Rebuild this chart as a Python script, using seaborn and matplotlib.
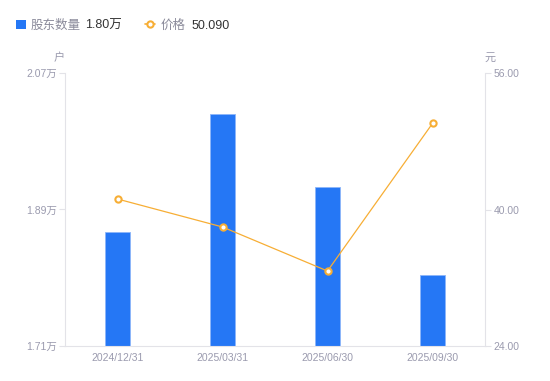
import numpy as np
import pandas as pd
import matplotlib
matplotlib.use('Agg')
import matplotlib.pyplot as plt
import seaborn as sns
from matplotlib.lines import Line2D
from matplotlib.patches import Rectangle

# Data
dates = ['2024/12/31', '2025/03/31', '2025/06/30', '2025/09/30']
holders = [1.860, 2.016, 1.920, 1.804]   # 万户
prices = [41.23, 37.95, 32.79, 50.09]    # 元
left_ticks = [1.71, 1.89, 2.07]
right_ticks = [24.0, 40.0, 56.0]

bar_color = '#2577F5'
line_color = '#F7AE35'
grey_text = '#9A9AAE'
axis_grey = '#E3E3E8'

sns.set_style('white')
plt.rcParams['font.family'] = ['Liberation Sans', 'Noto Sans CJK SC', 'DejaVu Sans']

df = pd.DataFrame({'date': dates, 'holders': holders, 'price': prices})

fig = plt.figure(figsize=(5.5, 3.81), dpi=100)
ax = fig.add_axes([65 / 550, 35 / 381, 420 / 550, 273 / 381])

sns.barplot(data=df, x='date', y='holders', color=bar_color, width=0.24,
            saturation=1, ax=ax, edgecolor='#8DB6F9', linewidth=0.6)
ax.set_ylim(left_ticks[0], left_ticks[-1])
ax.set_xlim(-0.5, 3.5)
ax.set_yticks(left_ticks)
ax.set_yticklabels([f'{v:.2f}万' for v in left_ticks])
ax.set_xlabel('')
ax.set_ylabel('')

ax2 = ax.twinx()
sns.lineplot(data=df, x='date', y='price', color=line_color, linewidth=0.9,
             marker='o', markersize=4.5, markerfacecolor='white',
             markeredgecolor=line_color, markeredgewidth=1.5, ax=ax2, sort=False)
ax2.set_ylim(right_ticks[0], right_ticks[-1])
ax2.set_yticks(right_ticks)
ax2.set_yticklabels([f'{v:.2f}' for v in right_ticks])
ax2.set_xlim(-0.5, 3.5)
ax2.set_ylabel('')
ax2.set_xlabel('')

for a in (ax, ax2):
    for s in a.spines.values():
        s.set_visible(False)
    a.tick_params(axis='both', colors=grey_text, labelsize=7.5)
    a.tick_params(axis='y', length=4, width=0.8, color=axis_grey, pad=2)
    a.tick_params(axis='x', length=0, pad=5)
ax.spines['left'].set_visible(True)
ax.spines['left'].set_color(axis_grey)
ax.spines['bottom'].set_visible(True)
ax.spines['bottom'].set_color(axis_grey)
ax2.spines['right'].set_visible(True)
ax2.spines['right'].set_color(axis_grey)
for lbl in ax.get_yticklabels() + ax2.get_yticklabels() + ax.get_xticklabels():
    lbl.set_color(grey_text)

# unit labels
fig.text(59 / 550, 1 - 58 / 381, '户', ha='center', va='center', fontsize=8, color=grey_text)
fig.text(490 / 550, 1 - 58 / 381, '元', ha='center', va='center', fontsize=8, color=grey_text)

# legend at top
ly = 1 - 24 / 381
ty = 1 - 26 / 381
fig.patches.append(Rectangle((16 / 550, 1 - 29 / 381), 9.5 / 550, 9.5 / 381, transform=fig.transFigure,
                             facecolor=bar_color, edgecolor='none'))
fig.text(31 / 550, ty, '股东数量', ha='left', va='center', fontsize=9, color='#8A8A9A')
fig.text(85 / 550, ty, f'{holders[-1]:.2f}万', ha='left', va='center', fontsize=9, color='#333333')
fig.lines.append(Line2D([145 / 550, 155 / 550], [ly, ly], transform=fig.transFigure,
                        color=line_color, linewidth=1.2))
fig.lines.append(Line2D([150 / 550], [ly], transform=fig.transFigure, color=line_color,
                        marker='o', markersize=4.5, markerfacecolor='white',
                        markeredgecolor=line_color, markeredgewidth=1.5, linestyle='none'))
fig.text(161 / 550, ty, '价格', ha='left', va='center', fontsize=9, color='#8A8A9A')
fig.text(192 / 550, ty, f'{prices[-1]:.3f}', ha='left', va='center', fontsize=9, color='#333333')

fig.savefig('out.png', dpi=100)
